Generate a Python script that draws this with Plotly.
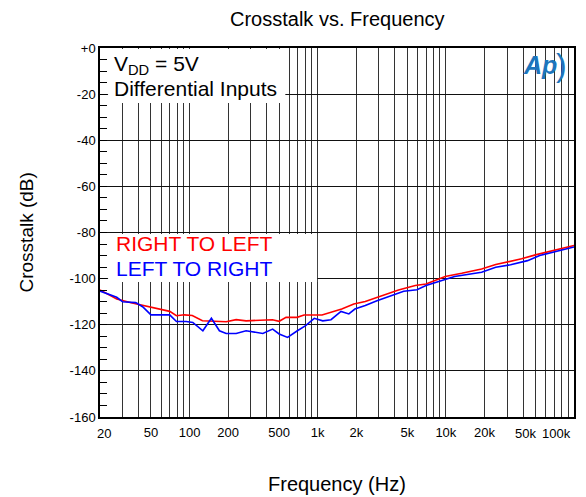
import math
import plotly.graph_objects as go

# ---- data ----
freq_rl = [20, 27, 35, 49, 70, 79, 91, 105, 126, 193, 231, 276, 370, 443, 500, 566, 690, 782,
           1080, 1540, 1913, 2350, 4270, 5770, 7000, 9880, 13300, 19000, 24500, 39000, 50000, 94400, 100000]
rl_db = [-104.9, -108.8, -110.5, -112.2, -114.2, -116.1, -115.7, -116.0, -118.3, -118.7, -117.8, -118.3,
         -117.8, -117.8, -118.5, -116.8, -116.8, -115.8, -115.8, -113.2, -111.0, -109.9, -104.9, -103.0,
         -102.3, -99.1, -97.7, -95.8, -93.9, -91.4, -89.7, -86.0, -85.6]

freq_lr = [20, 27, 30, 38, 43, 50, 70, 79, 94, 106, 127, 148, 171, 193, 231, 276, 373, 445, 500, 582,
           694, 805, 940, 1095, 1270, 1520, 1750, 1950, 2350, 2900, 4690, 5950, 7000, 7700, 11700, 19000,
           24500, 32000, 43400, 54000, 94400, 100000]
lr_db = [-105.4, -108.1, -110.0, -110.4, -112.2, -115.7, -115.7, -118.6, -118.6, -119.0, -122.6, -117.2,
         -122.6, -123.8, -123.8, -122.6, -123.8, -121.9, -124.0, -125.5, -122.6, -120.4, -117.2, -118.3,
         -117.8, -114.2, -115.3, -113.2, -111.7, -109.6, -105.5, -104.8, -103.0, -102.3, -99.1, -97.2,
         -95.1, -94.0, -92.2, -90.0, -86.7, -86.3]

grid_vals = [20, 30, 40, 50, 60, 70, 80, 90, 100, 200, 300, 400, 500, 600, 700, 800, 900,
             1000, 2000, 3000, 4000, 5000, 6000, 7000, 8000, 9000,
             10000, 20000, 30000, 40000, 50000, 60000, 70000, 80000, 90000, 100000]
# labels drawn by the axis
x_labels = {50: "50", 100: "100", 200: "200", 500: "500", 1000: "1k", 2000: "2k",
            5000: "5k", 10000: "10k", 20000: "20k"}
# edge labels drawn as annotations (nudged inward like the reference)
edge_labels = [(20, "20", 4, "center"), (50000, "50k", -10, "center"), (100000, "100k", -1, "right")]
y_vals = [-160, -140, -120, -100, -80, -60, -40, -20, 0]
y_text = ["-160", "-140", "-120", "-100", "-80", "-60", "-40", "-20", "+0"]

FONT = "Liberation Sans, Arial, sans-serif"

fig = go.Figure()
fig.add_trace(go.Scatter(x=freq_rl, y=rl_db, mode="lines", line=dict(color="#ff0000", width=1.6),
                         name="RIGHT TO LEFT", showlegend=False))
fig.add_trace(go.Scatter(x=freq_lr, y=lr_db, mode="lines", line=dict(color="#0000ff", width=1.6),
                         name="LEFT TO RIGHT", showlegend=False))

fig.update_layout(
    width=586, height=497,
    margin=dict(l=100, r=10, t=48, b=80),
    paper_bgcolor="white", plot_bgcolor="white",
    font=dict(family=FONT, color="black"),
    xaxis=dict(type="log", range=[math.log10(20), math.log10(100000)],
               tickmode="array", tickvals=grid_vals,
               ticktext=[x_labels.get(v, "") for v in grid_vals],
               showgrid=True, gridcolor="#333333", gridwidth=1,
               showline=True, linecolor="black", linewidth=1.5, mirror=True,
               ticks="", tickfont=dict(size=13), ticklabelstandoff=3, zeroline=False),
    yaxis=dict(range=[-160, 0], tickmode="array", tickvals=y_vals, ticktext=y_text,
               showgrid=True, gridcolor="#111111", gridwidth=1,
               showline=True, linecolor="black", linewidth=1.5, mirror=True,
               ticks="inside", ticklen=7, tickcolor="black", tickfont=dict(size=13),
               minor=dict(dtick=5, ticks="inside", ticklen=7, tickcolor="black", showgrid=False),
               zeroline=False),
)

# white boxes behind text
fig.add_shape(type="rect", xref="paper", yref="paper", x0=0.017, x1=0.391, y0=0.851, y1=0.997,
              fillcolor="white", line=dict(width=0), layer="above")
fig.add_shape(type="rect", xref="paper", yref="paper", x0=0.017, x1=0.458, y0=0.366, y1=0.496,
              fillcolor="white", line=dict(width=0), layer="above")

def ann(text, x, y, xshift=0, yshift=0, size=13, color="black", xanchor="center", yanchor="middle",
        angle=0, xref="paper"):
    fig.add_annotation(text=text, xref=xref, yref="paper", x=x, y=y, xshift=xshift, yshift=yshift,
                       showarrow=False, font=dict(size=size, color=color, family=FONT),
                       xanchor=xanchor, yanchor=yanchor, textangle=angle)

for f, lab, dx, anc in edge_labels:
    ann(lab, math.log10(f), 0, xshift=dx, yshift=-16, size=13, xanchor=anc, xref="x")

ann("Crosstalk vs. Frequency", 0.5, 1, yshift=29, size=20)
ann("Frequency (Hz)", 0.5, 0, yshift=-67, size=20)
ann("Crosstalk (dB)", 0, 0.5, xshift=-74, size=19, angle=-90)
ann("V<sub>DD</sub> = 5V", 0, 1, xshift=12, yshift=-17, size=21, xanchor="left")
ann("Differential Inputs", 0, 1, xshift=12, yshift=-40, size=21, xanchor="left")
ann("RIGHT TO LEFT", 0, 1, xshift=14, yshift=-195, size=21, color="#ff0000", xanchor="left")
ann("LEFT TO RIGHT", 0, 1, xshift=14, yshift=-220, size=21, color="#0000ff", xanchor="left")
ann("<b><i>Ap</i></b>", 1, 1, xshift=-34, yshift=-17, size=25, color="#1c75bc")
ann(")", 1, 1, xshift=-13, yshift=-17, size=32, color="#1c75bc")

fig.write_html("out.html")
